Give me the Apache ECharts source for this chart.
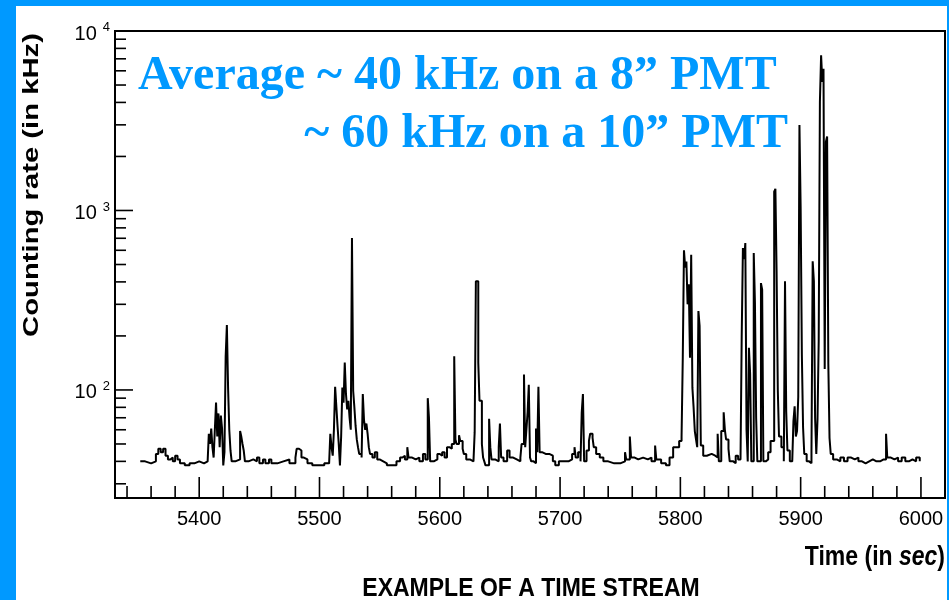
<!DOCTYPE html>
<html><head><meta charset="utf-8">
<script src="https://cdn.jsdelivr.net/npm/echarts@6/dist/echarts.min.js"></script>
<style>html,body{margin:0;padding:0;background:#0099ff}#c{width:949px;height:600px}</style>
</head><body><div id="c"></div>
<script>
// ---- data (time in sec, counting rate in kHz) ----
const times = [
5351,5355,5360,5364,5366,5368,5370,5372,5374,5376,5378,5380,5382,5384,5388,5392,5396,5400,5404,5407,
5408,5409,5410,5411,5412,5413,5414,5415,5416,5417,5418,5419,5420,5421,5422,5423,5424,5425,5426,5427,
5430,5434,5435,5436,5437,5438,5441,5445,5448,5450,5453,5455,5458,5460,5465,5470,5475,5480,5481,5483,
5485,5487,5490,5494,5500,5504,5508,5509,5510,5511,5512,5513,5514,5515,5516,5517,5518,5519,5520,5521,
5522,5523,5524,5525,5526,5527,5528,5529,5530,5531,5532,5533,5535,5536,5537,5538,5539,5540,5541,5542,
5544,5546,5548,5550,5553,5556,5560,5564,5567,5569,5571,5573,5574,5577,5580,5583,5586,5588,5590,5591,
5592,5595,5598,5600,5602,5604,5606,5608,5610,5612,5613,5614,5616,5617,5619,5620,5622,5625,5628,5629,
5630,5632,5633,5635,5636,5637,5638,5641,5642,5643,5646,5649,5650,5651,5653,5656,5658,5661,5664,5667,
5668,5670,5671,5672,5673,5674,5675,5676,5678,5680,5681,5682,5683,5685,5688,5691,5694,5696,5699,5703,
5707,5710,5712,5713,5715,5717,5718,5719,5720,5722,5724,5725,5727,5728,5730,5733,5736,5740,5745,5750,
5754,5755,5758,5759,5762,5765,5769,5773,5776,5779,5780,5784,5788,5791,5794,5797,5799,5801,5802,5803,
5804,5805,5806,5807,5808,5809,5810,5811,5812,5813,5814,5815,5816,5817,5819,5822,5826,5829,5831,5832,
5834,5836,5837,5838,5840,5841,5844,5846,5848,5850,5851,5852,5853,5854,5855,5856,5857,5858,5859,5861,
5862,5863,5864,5867,5868,5869,5871,5873,5875,5878,5879,5880,5881,5882,5884,5886,5887,5888,5889,5891,
5893,5894,5895,5896,5897,5898,5899,5900,5901,5902,5903,5905,5907,5909,5910,5911,5912,5913,5914,5915,
5916,5917,5918,5919,5920,5921,5922,5923,5924,5925,5927,5930,5933,5936,5939,5942,5945,5948,5951,5954,
5957,5960,5963,5966,5969,5971,5972,5975,5978,5981,5984,5987,5990,5993,5996,5999
];
const rates = [
40,39,40,44,47,45,47,43,41,42,40,43,41,39,38,39,40,39,40,41,
57,50,61,48,42,60,85,55,74,48,72,61,38,45,154,230,103,60,46,40,
41,59,55,50,46,40,41,40,42,39,41,39,41,39,40,41,39,42,47,46,
42,41,39,38,38,39,40,57,48,43,60,104,81,63,50,38,55,103,85,142,
95,78,87,70,60,702,99,80,63,53,48,44,42,95,68,60,65,57,48,44,
42,45,41,40,39,38,38,40,42,43,41,48,42,41,42,40,44,41,90,70,
40,41,44,43,45,42,48,47,50,154,53,50,56,52,47,44,41,40,41,58,
403,142,87,50,42,40,38,69,48,41,40,48,65,42,40,46,42,41,40,42,
50,122,48,60,75,107,42,40,39,61,45,104,45,44,44,43,40,38,40,40,
41,44,48,42,45,40,75,95,40,46,52,57,54,48,44,42,40,39,39,40,
45,41,55,42,41,42,41,42,40,49,41,39,38,42,48,48,52,55,150,600,
480,520,300,388,151,567,103,80,59,53,48,275,227,49,43,44,43,42,57,40,
59,75,60,53,47,40,39,43,41,42,200,617,535,658,60,40,172,123,40,580,
305,70,40,394,362,40,41,45,52,1275,1320,458,100,55,48,40,403,76,46,40,
39,67,81,55,59,91,2990,1030,158,62,44,40,39,46,521,403,70,44,68,187,
4035,7330,5210,6170,131,2415,2580,140,54,44,41,40,42,40,42,41,42,40,39,40,
41,40,40,41,41,57,42,41,42,40,42,40,41,40,42,40
];
const xMajorTicks = [5400,5500,5600,5700,5800,5900,6000];
const xMinorTicks = [5340,5360,5380,5420,5440,5460,5480,5520,5540,5560,5580,5620,5640,5660,5680,
  5720,5740,5760,5780,5820,5840,5860,5880,5920,5940,5960,5980];
const yMajorTicks = [100,1000,10000];
const yMinorTicks = [30,40,50,60,70,80,90,200,300,400,500,600,700,800,900,2000,3000,4000,5000,6000,7000,8000,9000];
const xMin = 5330, xMax = 6020, yMin = 25, yMax = 10000;

const chart = echarts.init(document.getElementById('c'));
const SANS = '"Liberation Sans", Arial, sans-serif';

function tickSeries(vals, isX, len) {
  return {
    type: 'custom', silent: true, z: 5,
    data: vals.map(v => isX ? [v, yMin] : [xMin, v]),
    renderItem: function (params, api) {
      const p = api.coord([api.value(0), api.value(1)]);
      const shape = isX ? {x1: p[0], y1: p[1], x2: p[0], y2: p[1] - len}
                        : {x1: p[0], y1: p[1], x2: p[0] + len, y2: p[1]};
      return {type: 'line', shape: shape, style: {stroke: '#000', lineWidth: 1.6}};
    }
  };
}

chart.setOption({
  backgroundColor: '#0099ff',
  animation: false,
  grid: {left: 115, top: 31, width: 830, height: 467, show: true, borderColor: '#000', borderWidth: 2, backgroundColor: 'transparent'},
  xAxis: {
    type: 'value', min: xMin, max: xMax, interval: 10,
    axisLine: {lineStyle: {color: '#000', width: 2}},
    axisTick: {show: false}, splitLine: {show: false},
    axisLabel: {
      interval: 0, margin: 11, color: '#000', fontSize: 20, fontFamily: SANS,
      formatter: v => (v % 100 === 0 && v >= 5400 && v <= 6000) ? String(v) : ''
    }
  },
  yAxis: {
    type: 'log', logBase: 10, min: yMin, max: yMax,
    axisLine: {lineStyle: {color: '#000', width: 2}},
    axisTick: {show: false}, splitLine: {show: false},
    axisLabel: {
      margin: 5, color: '#000',
      formatter: function (v) {
        const e = Math.log10(v), r = Math.round(e);
        if (Math.abs(e - r) > 1e-6) return '';
        return '{b|10}{s|' + r + '}';
      },
      rich: {
        b: {fontSize: 20, fontFamily: SANS, color: '#000', lineHeight: 20, padding: [6, 0, 0, 0]},
        s: {fontSize: 13, fontFamily: SANS, color: '#000', lineHeight: 13, verticalAlign: 'top', padding: [0, 0, 0, 6]}
      }
    }
  },
  series: [
    {
      type: 'line', step: 'end', symbol: 'none', z: 3,
      lineStyle: {color: '#000', width: 2},
      data: times.map((t, i) => [t, rates[i]])
    },
    tickSeries(xMajorTicks, true, 21),
    tickSeries(xMinorTicks, true, 12),
    tickSeries(yMajorTicks, false, 18),
    tickSeries(yMinorTicks, false, 11)
  ],
  graphic: [
    {type: 'rect', z: -100, silent: true, shape: {x: 16, y: 6, width: 931, height: 594}, style: {fill: '#fff'}},
    {type: 'text', z: 100, x: 32, y: 185, rotation: Math.PI / 2, scaleX: 1.33,
     style: {text: 'Counting rate (in kHz)', x: 0, y: 0, align: 'center', verticalAlign: 'middle',
             textAlign: 'center', textVerticalAlign: 'middle', font: 'bold 22px ' + SANS, fill: '#000'}},
    {type: 'text', z: 100, x: 945, y: 557, scaleY: 1.2,
     style: {text: 'Time (in {i|sec})', x: 0, y: 0, align: 'right', verticalAlign: 'middle',
             textAlign: 'right', textVerticalAlign: 'middle', font: 'bold 23px ' + SANS, fill: '#000',
             rich: {i: {fontStyle: 'italic', fontWeight: 'bold', fontSize: 23, fontFamily: SANS, fill: '#000', color: '#000'}}}},
    {type: 'text', z: 100, x: 531, y: 589, scaleY: 1.1,
     style: {text: 'EXAMPLE OF A TIME STREAM', x: 0, y: 0, align: 'center', verticalAlign: 'middle',
             textAlign: 'center', textVerticalAlign: 'middle', font: 'bold 23px ' + SANS, fill: '#000'}},
    {type: 'text', z: 100, x: 138, y: 77,
     style: {text: 'Average ~ 40 kHz on a 8\u201D PMT', x: 0, y: 0, align: 'left', verticalAlign: 'middle',
             textAlign: 'left', textVerticalAlign: 'middle', font: 'bold 48px "Liberation Serif", "Times New Roman", serif', fill: '#0099ff'}},
    {type: 'text', z: 100, x: 788, y: 135,
     style: {text: '~ 60 kHz on a 10\u201D PMT', x: 0, y: 0, align: 'right', verticalAlign: 'middle',
             textAlign: 'right', textVerticalAlign: 'middle', font: 'bold 48px "Liberation Serif", "Times New Roman", serif', fill: '#0099ff'}}
  ]
});
</script></body></html>
